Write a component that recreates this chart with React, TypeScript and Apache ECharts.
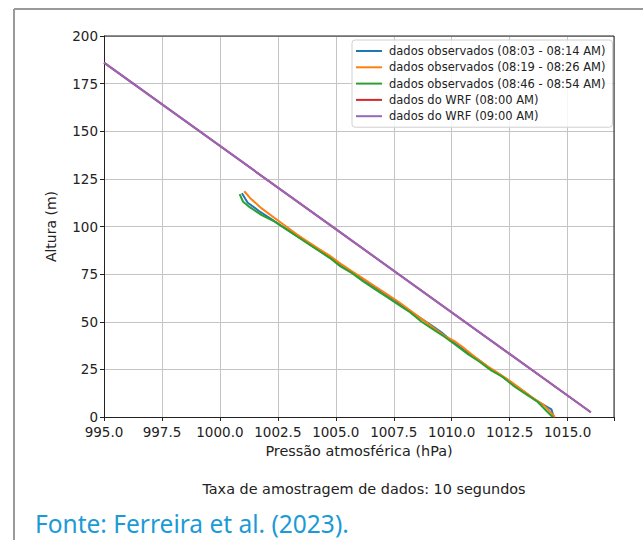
import React, { useEffect, useRef } from "react";
import * as echarts from "echarts";

// Pressure (hPa) / height (m) profiles
const obsBlue: [number, number][] = [
  [1000.95, 117.5], [1001.2, 112.5], [1001.7, 108], [1002.2, 104], [1002.7, 100],
  [1003.2, 96], [1003.7, 92], [1004.2, 88], [1004.7, 84], [1005.2, 80],
  [1005.7, 76], [1006.2, 72], [1006.7, 68], [1007.2, 64], [1007.7, 60],
  [1008.2, 55.5], [1008.7, 51.5], [1009.2, 47.5], [1009.6, 44], [1010.1, 39],
  [1010.6, 34.5], [1011.1, 30.5], [1011.6, 26], [1012.1, 22], [1012.6, 17.5],
  [1013.1, 13.5], [1013.6, 9], [1014.15, 5], [1014.3, 4], [1014.4, 0],
];
const obsOrange: [number, number][] = [
  [1001.05, 118.5], [1001.3, 115], [1001.8, 109.5], [1002.3, 105], [1002.8, 100.5],
  [1003.3, 96], [1003.8, 92], [1004.3, 88], [1004.7, 85], [1005.2, 80.5],
  [1005.7, 76.5], [1006.2, 72.5], [1006.7, 68.5], [1007.2, 64.5], [1007.7, 60.5],
  [1008.2, 56], [1008.7, 51.5], [1009.2, 47], [1009.7, 42.5], [1010.1, 40],
  [1010.5, 36.5], [1011.0, 31.5], [1011.5, 27], [1012.0, 23], [1012.5, 19],
  [1013.0, 14.5], [1013.5, 10], [1014.0, 6], [1014.3, 2], [1014.45, 0],
];
const obsGreen: [number, number][] = [
  [1000.85, 117], [1001.0, 113], [1001.3, 110], [1001.8, 106], [1002.3, 103],
  [1002.8, 99], [1003.3, 95], [1003.8, 91], [1004.3, 87], [1004.8, 83],
  [1005.2, 79], [1005.7, 75.5], [1006.2, 71], [1006.7, 67], [1007.2, 63],
  [1007.7, 59], [1008.2, 55], [1008.7, 50], [1009.2, 46], [1009.7, 42],
  [1010.2, 37.5], [1010.7, 33], [1011.2, 29], [1011.7, 24.5], [1012.2, 21],
  [1012.7, 16], [1013.2, 12], [1013.7, 8], [1014.1, 3], [1014.35, 0],
];
const wrf08: [number, number][] = [[995, 186], [1005, 98.6], [1016, 2.5]];
const wrf09: [number, number][] = [[995, 186], [1005, 98.6], [1016, 2.5]];

const seriesNames = [
  "dados observados (08:03 - 08:14 AM)",
  "dados observados (08:19 - 08:26 AM)",
  "dados observados (08:46 - 08:54 AM)",
  "dados do WRF (08:00 AM)",
  "dados do WRF (09:00 AM)",
];
const seriesColors = ["#1f77b4", "#ff7f0e", "#2ca02c", "#d62728", "#9467bd"];
const seriesData = [obsBlue, obsOrange, obsGreen, wrf08, wrf09];

const xTitle = "Pressão atmosférica (hPa)";
const yTitle = "Altura (m)";
const caption = "Taxa de amostragem de dados: 10 segundos";
const source = "Fonte: Ferreira et al. (2023).";

const FONT = "DejaVu Sans";

export default function App() {
  const ref = useRef<HTMLDivElement>(null);

  useEffect(() => {
    if (!ref.current) return;
    const chart = echarts.init(ref.current, undefined, { renderer: "svg" });
    chart.setOption({
      animation: false,
      backgroundColor: "#ffffff",
      grid: { left: 104, top: 36, right: 29, bottom: 123, containLabel: false },
      xAxis: {
        type: "value",
        min: 995,
        max: 1017,
        interval: 2.5,
        name: xTitle,
        nameLocation: "middle",
        nameGap: 27,
        nameTextStyle: { fontFamily: FONT, fontSize: 14.4, color: "#222" },
        axisLine: { show: true, onZero: false, lineStyle: { color: "#222", width: 1 } },
        axisTick: { show: true, length: 4, lineStyle: { color: "#222" } },
        axisLabel: {
          fontFamily: FONT,
          fontSize: 13.5,
          color: "#222",
          margin: 8,
          formatter: (v: number) => (Math.abs(v / 2.5 - Math.round(v / 2.5)) < 1e-6 ? v.toFixed(1) : ""),
        },
        splitLine: { show: true, lineStyle: { color: "#c4c4c4", width: 1 } },
      },
      yAxis: {
        type: "value",
        min: 0,
        max: 200,
        interval: 25,
        name: yTitle,
        nameLocation: "middle",
        nameGap: 46,
        nameTextStyle: { fontFamily: FONT, fontSize: 14, color: "#222" },
        axisLine: { show: true, onZero: false, lineStyle: { color: "#222", width: 1 } },
        axisTick: { show: true, length: 4, lineStyle: { color: "#222" } },
        axisLabel: { fontFamily: FONT, fontSize: 13.5, color: "#222", margin: 6 },
        splitLine: { show: true, lineStyle: { color: "#c4c4c4", width: 1 } },
      },
      legend: {
        orient: "vertical",
        left: 352,
        top: 40,
        icon: "rect",
        itemWidth: 26,
        itemHeight: 2,
        itemGap: 4.3,
        padding: [5, 7, 5, 4],
        backgroundColor: "rgba(255,255,255,0.85)",
        borderColor: "#d0d0d0",
        borderWidth: 1,
        borderRadius: 3,
        textStyle: { fontFamily: FONT, fontSize: 11.5, color: "#222", padding: [0, 0, 0, 2] },
        data: seriesNames,
      },
      series: seriesNames.map((name, i) => ({
        name,
        type: "line",
        data: seriesData[i],
        symbol: "none",
        showSymbol: false,
        smooth: false,
        clip: true,
        color: seriesColors[i],
        lineStyle: { color: seriesColors[i], width: 2 },
        z: 2 + i,
      })),
      graphic: [
        // figure frame (top and left edges)
        { type: "line", shape: { x1: 14, y1: 9, x2: 643, y2: 9 }, style: { stroke: "#9a9a9a", lineWidth: 2 } },
        { type: "line", shape: { x1: 14, y1: 9, x2: 14, y2: 540 }, style: { stroke: "#9a9a9a", lineWidth: 2 } },
        // right and top spines of the axes box
        { type: "line", shape: { x1: 104, y1: 36, x2: 614, y2: 36 }, style: { stroke: "#222", lineWidth: 1 }, z: 10 },
        { type: "line", shape: { x1: 614, y1: 36, x2: 614, y2: 417 }, style: { stroke: "#222", lineWidth: 1 }, z: 10 },
        {
          type: "text",
          x: 364,
          y: 489,
          style: {
            text: caption,
            fontFamily: FONT,
            fontSize: 14.4,
            fill: "#222",
            textAlign: "center",
            textVerticalAlign: "middle",
          },
        },
        {
          type: "text",
          x: 35,
          y: 523,
          style: {
            text: source,
            fontFamily: "Noto Sans",
            fontSize: 24.5,
            fill: "#1b9ad6",
            textVerticalAlign: "middle",
          },
        },
      ],
    });
    return () => chart.dispose();
  }, []);

  return (
    <div
      ref={ref}
      style={{ position: "absolute", left: 0, top: 0, width: 643, height: 540 }}
    />
  );
}
